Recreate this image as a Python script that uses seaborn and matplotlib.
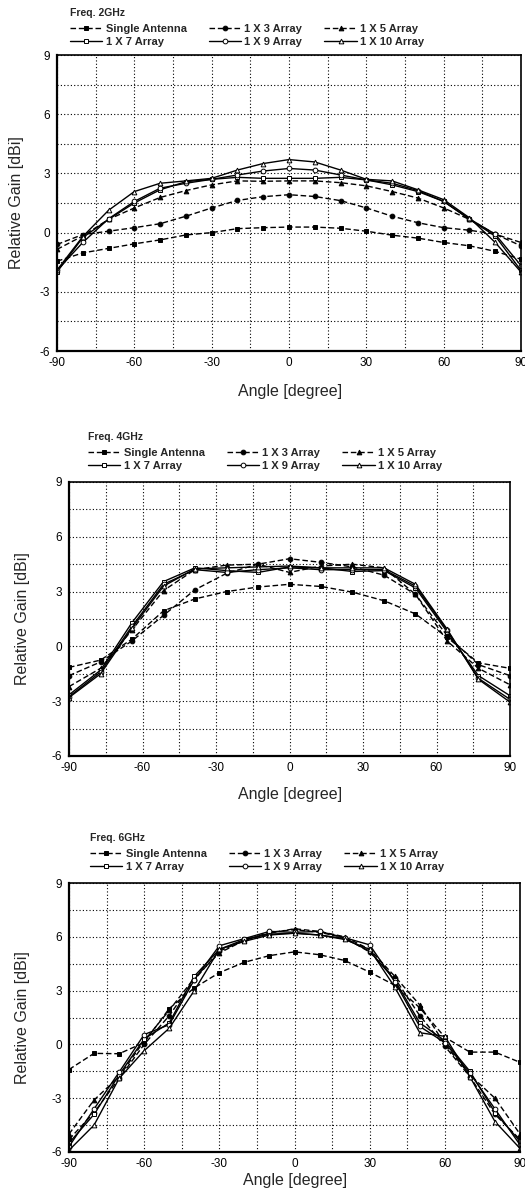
"""
Relative gain vs. angle for a single antenna and 1xN arrays at 2, 4 and 6 GHz.
Three stacked panels, black & white style as in the printed figure.
"""

import numpy as np
import pandas as pd
import matplotlib
matplotlib.use("Agg")
import matplotlib.pyplot as plt
from matplotlib.ticker import MultipleLocator
import seaborn as sns

sns.set_style("white")
plt.rcParams.update({
    "font.family":        ["Liberation Sans", "DejaVu Sans"],
    "axes.unicode_minus": False,
    "axes.edgecolor":     "black",
    "xtick.color":        "black",
    "ytick.color":        "black",
})

SERIES = ["Single Antenna", "1 X 3 Array", "1 X 5 Array",
          "1 X 7 Array", "1 X 9 Array", "1 X 10 Array"]

# ---- 2 GHz (markers every 10 deg) ----
angle_2g = [-90, -80, -70, -60, -50, -40, -30, -20, -10, 0,
            10, 20, 30, 40, 50, 60, 70, 80, 90]
single_2g = [-1.45, -1.03, -0.80, -0.57, -0.37, -0.12, 0.00, 0.20, 0.25, 0.28,
             0.28, 0.22, 0.07, -0.13, -0.28, -0.50, -0.67, -0.95, -1.35]
arr3_2g = [-0.60, -0.10, 0.07, 0.25, 0.45, 0.83, 1.25, 1.63, 1.82, 1.92,
           1.83, 1.62, 1.25, 0.83, 0.50, 0.25, 0.12, -0.08, -0.67]
arr5_2g = [-0.85, -0.17, 0.67, 1.25, 1.78, 2.13, 2.42, 2.62, 2.60, 2.62,
           2.62, 2.53, 2.37, 2.08, 1.75, 1.25, 0.67, -0.08, -0.50]
arr7_2g = [-2.00, -0.25, 0.67, 1.50, 2.17, 2.58, 2.70, 2.80, 2.75, 2.75,
           2.75, 2.80, 2.67, 2.42, 2.08, 1.58, 0.67, -0.17, -1.92]
arr9_2g = [-1.92, -0.50, 0.70, 1.58, 2.25, 2.50, 2.70, 2.92, 3.12, 3.25,
           3.17, 2.92, 2.67, 2.50, 2.13, 1.58, 0.70, -0.08, -1.67]
arr10_2g = [-1.90, -0.20, 1.13, 2.08, 2.50, 2.62, 2.75, 3.17, 3.50, 3.70,
            3.58, 3.17, 2.70, 2.62, 2.17, 1.67, 0.75, -0.50, -2.00]

# ---- 4 GHz (markers every ~12.9 deg) ----
angle_4g = [-90, -77.1, -64.3, -51.4, -38.6, -25.7, -12.9, 0,
            12.9, 25.7, 38.6, 51.4, 64.3, 77.1, 90]
single_4g = [-1.15, -0.75, 0.40, 1.95, 2.60, 3.00, 3.25, 3.40,
             3.28, 2.97, 2.50, 1.78, 0.50, -0.90, -1.20]
arr3_4g = [-1.60, -0.85, 0.30, 1.70, 3.10, 4.00, 4.50, 4.80,
           4.60, 4.35, 3.90, 2.85, 0.60, -1.00, -1.60]
arr5_4g = [-2.20, -1.20, 0.90, 3.06, 4.20, 4.45, 4.50, 4.05,
           4.40, 4.50, 4.30, 2.85, 0.30, -1.20, -2.10]
arr7_4g = [-2.65, -1.30, 1.30, 3.55, 4.30, 4.15, 4.05, 4.35,
           4.30, 4.10, 4.15, 3.20, 0.80, -1.60, -2.70]
arr9_4g = [-2.75, -1.40, 1.10, 3.40, 4.20, 4.05, 4.20, 4.30,
           4.20, 4.20, 4.20, 3.30, 0.90, -1.75, -2.90]
arr10_4g = [-2.80, -1.50, 1.00, 3.30, 4.25, 4.30, 4.35, 4.40,
            4.30, 4.30, 4.30, 3.40, 0.95, -1.80, -3.05]

# ---- 6 GHz (markers every 10 deg) ----
angle_6g = angle_2g
single_6g = [-1.40, -0.50, -0.52, 0.10, 2.00, 3.15, 4.00, 4.58, 4.95, 5.16,
             5.00, 4.68, 4.03, 3.30, 2.04, 0.40, -0.43, -0.43, -1.00]
arr3_6g = [-5.30, -3.80, -1.90, 0.00, 1.60, 3.60, 5.20, 5.80, 6.25, 6.40,
           6.25, 5.95, 5.15, 3.70, 1.60, -0.10, -1.80, -3.90, -5.30]
arr5_6g = [-5.00, -3.10, -1.80, 0.20, 1.90, 3.70, 5.10, 5.80, 6.20, 6.45,
           6.30, 6.00, 5.30, 3.80, 2.20, 0.00, -1.70, -3.00, -5.00]
arr7_6g = [-5.50, -3.90, -1.70, 0.30, 1.20, 3.80, 5.30, 5.85, 6.15, 6.20,
           6.10, 5.90, 5.20, 3.60, 1.20, 0.20, -1.50, -3.80, -5.40]
arr9_6g = [-5.70, -3.60, -1.55, 0.55, 1.10, 3.60, 5.50, 5.90, 6.30, 6.25,
           6.30, 5.95, 5.55, 3.50, 1.00, 0.10, -1.60, -3.60, -5.60]
arr10_6g = [-5.90, -4.50, -1.90, -0.35, 0.90, 3.00, 5.30, 5.75, 6.10, 6.20,
            6.10, 5.85, 5.30, 3.20, 0.65, 0.45, -1.80, -4.30, -5.80]

STYLE = {
    "Single Antenna": dict(marker="s", mfc="black", ls=(0, (4, 2))),
    "1 X 3 Array":    dict(marker="o", mfc="black", ls=(0, (4, 2))),
    "1 X 5 Array":    dict(marker="^", mfc="black", ls=(0, (4, 2))),
    "1 X 7 Array":    dict(marker="s", mfc="white", ls="-"),
    "1 X 9 Array":    dict(marker="o", mfc="white", ls="-"),
    "1 X 10 Array":   dict(marker="^", mfc="white", ls="-"),
}

PANELS = [
    dict(freq="Freq. 2GHz", angles=angle_2g,
         values=[single_2g, arr3_2g, arr5_2g, arr7_2g, arr9_2g, arr10_2g],
         box=(57, 55, 521, 351), leg_x=70, freq_y=13, leg_y=24,
         xlab=(290, 392), ylab_x=17),
    dict(freq="Freq. 4GHz", angles=angle_4g,
         values=[single_4g, arr3_4g, arr5_4g, arr7_4g, arr9_4g, arr10_4g],
         box=(69, 482, 510, 756), leg_x=88, freq_y=437, leg_y=448,
         xlab=(290, 795), ylab_x=23),
    dict(freq="Freq. 6GHz", angles=angle_6g,
         values=[single_6g, arr3_6g, arr5_6g, arr7_6g, arr9_6g, arr10_6g],
         box=(69, 883, 520, 1152), leg_x=90, freq_y=838, leg_y=849,
         xlab=(295, 1181), ylab_x=23),
]

W, H = 525, 1202
fig = plt.figure(figsize=(W / 100, H / 100), dpi=100)

for p in PANELS:
    x0, y0, x1, y1 = p["box"]
    ax = fig.add_axes([x0 / W, 1 - y1 / H, (x1 - x0) / W, (y1 - y0) / H])

    for name, vals in zip(SERIES, p["values"]):
        df = pd.DataFrame({"angle": p["angles"], "gain": vals})
        st = STYLE[name]
        sns.lineplot(data=df, x="angle", y="gain", ax=ax, color="black",
                     linestyle=st["ls"], linewidth=1.0, marker=st["marker"],
                     markersize=3.4, markerfacecolor=st["mfc"],
                     markeredgecolor="black", markeredgewidth=0.7,
                     label=name, sort=False, errorbar=None)
    if ax.get_legend() is not None:
        ax.get_legend().remove()

    ax.set_xlim(-90, 90)
    ax.set_ylim(-6, 9)
    ax.xaxis.set_major_locator(MultipleLocator(30))
    ax.xaxis.set_minor_locator(MultipleLocator(15))
    ax.yaxis.set_major_locator(MultipleLocator(3))
    ax.yaxis.set_minor_locator(MultipleLocator(1.5))
    ax.grid(True, which="both", color="black", linestyle=(0, (1, 2)),
            linewidth=0.8)
    ax.tick_params(axis="x", which="major", direction="inout", length=5,
                   width=1, labelsize=8.5, pad=2)
    ax.tick_params(axis="x", which="minor", direction="in", length=3, width=1)
    ax.tick_params(axis="y", which="major", direction="out", length=3,
                   width=1, labelsize=8.5, pad=2)
    ax.tick_params(axis="y", which="minor", direction="out", length=2, width=1)
    ax.set_xlabel("")
    ax.set_ylabel("")
    for side in ["left", "bottom"]:
        ax.spines[side].set_linewidth(1.6)
    for side in ["top", "right"]:
        ax.spines[side].set_linewidth(1.2)

    fig.text(p["xlab"][0] / W, 1 - p["xlab"][1] / H, "Angle [degree]",
             ha="center", va="center", fontsize=11.5)
    fig.text(p["ylab_x"] / W, 1 - (y0 + y1) / 2 / H, "Relative Gain [dBi]",
             ha="center", va="center", rotation=90, fontsize=11.5)
    fig.text(p["leg_x"] / W, 1 - p["freq_y"] / H, p["freq"],
             ha="left", va="center", fontsize=7.5, fontweight="bold")

    handles, labels = ax.get_legend_handles_labels()
    order = [0, 3, 1, 4, 2, 5]
    fig.legend([handles[i] for i in order], [labels[i] for i in order],
               loc="upper left", ncol=3, frameon=False,
               bbox_to_anchor=(p["leg_x"] / W, 1 - p["leg_y"] / H),
               borderpad=0, borderaxespad=0, handlelength=2.9,
               handletextpad=0.3, columnspacing=2.0, labelspacing=0.3,
               prop={"size": 8, "weight": "bold"})

fig.savefig("out.png", dpi=100)
